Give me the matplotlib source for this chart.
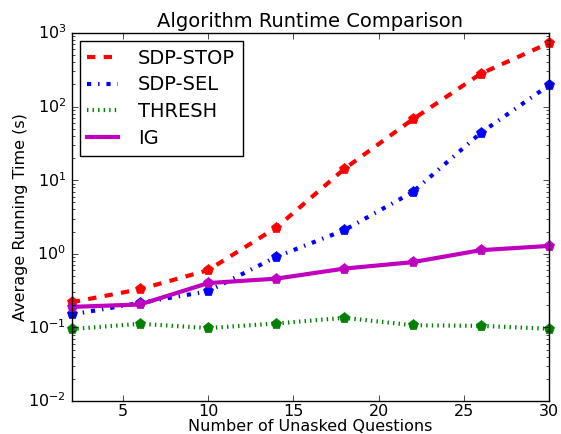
import matplotlib
matplotlib.use("Agg")
import matplotlib.pyplot as plt

plt.style.use('classic')

questions = [2, 6, 10, 14, 18, 22, 26, 30]
sdp_stop = [0.22, 0.33, 0.60, 2.27, 14.3, 67, 280, 730]
sdp_sel = [0.15, 0.215, 0.31, 0.91, 2.1, 6.9, 44, 195]
thresh = [0.095, 0.112, 0.098, 0.113, 0.135, 0.107, 0.105, 0.096]
ig = [0.19, 0.205, 0.40, 0.46, 0.63, 0.77, 1.12, 1.28]

series = [
    ("SDP-STOP", sdp_stop, "r", "--"),
    ("SDP-SEL", sdp_sel, "b", "-."),
    ("THRESH", thresh, "g", ":"),
    ("IG", ig, "m", "-"),
]

fig = plt.figure(figsize=(5.61, 4.34), dpi=100, facecolor="white")
ax = fig.add_axes([0.128, 0.076, 0.8506, 0.848])

for label, vals, c, ls in series:
    ax.plot(questions, vals, color=c, linestyle=ls, linewidth=3, label=label)
    ax.plot(questions, vals, color=c, linestyle="none", marker="p",
            markersize=8, markeredgecolor=c, clip_on=False)

ax.set_yscale("log")
ax.set_xlim(2, 30)
ax.set_ylim(1e-2, 1e3)
ax.set_xticks([5, 10, 15, 20, 25, 30])
ax.set_title("Algorithm Runtime Comparison", fontsize=14, pad=4)
ax.set_xlabel("Number of Unasked Questions", fontsize=11.5, labelpad=0)
ax.set_ylabel("Average Running Time (s)", fontsize=11.5, labelpad=0)
ax.tick_params(axis="x", labelsize=11.5, pad=2)
ax.tick_params(axis="y", labelsize=11.5, pad=4)
ax.legend(loc="upper left", fontsize=14, handlelength=1.6, handletextpad=1.0,
          labelspacing=0.4, borderaxespad=0.4, numpoints=1)

fig.savefig("out.png", dpi=100, facecolor="white")
